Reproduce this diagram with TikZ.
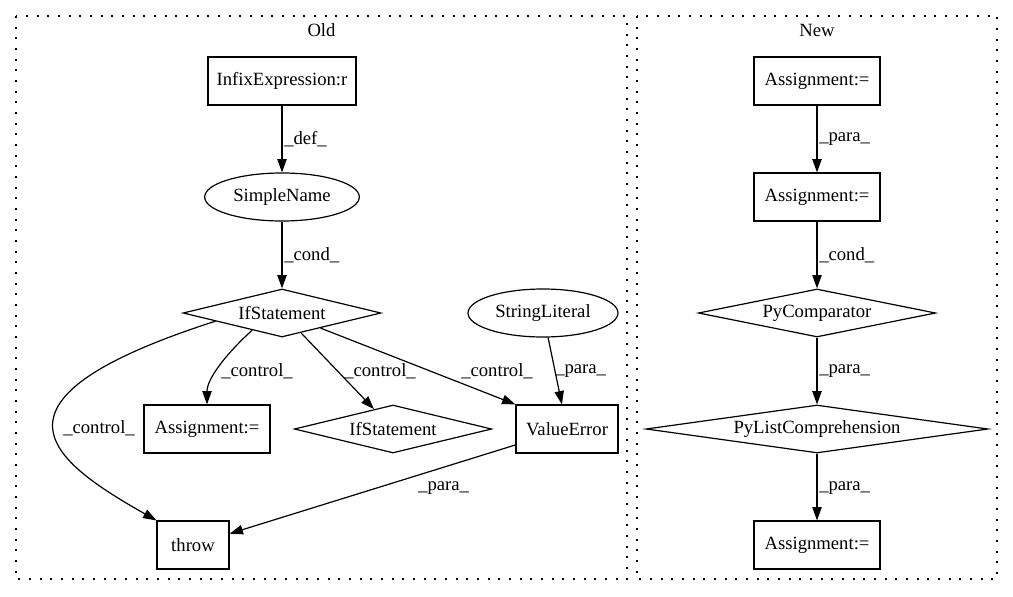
\documentclass[tikz,border=0pt]{standalone}
\usepackage{fontspec}
\setmainfont{Liberation Serif}
\usetikzlibrary{arrows.meta,shapes.geometric}
\begin{document}
\begin{tikzpicture}[x=0.75pt,y=-0.75pt,
  txt/.style={font=\fontsize{14}{16}\selectfont},
  box/.style={txt,draw,rectangle,minimum height=36pt,inner sep=0pt,line width=0.9pt},
  ell/.style={txt,draw,ellipse,minimum height=36pt,inner sep=0pt,line width=0.9pt},
  dia/.style={txt,draw,diamond,minimum height=36pt,inner sep=0pt,line width=0.9pt},
  lbl/.style={txt,anchor=west,inner sep=0pt},
  edge/.style={-{Triangle[length=10pt,width=7pt]},line width=0.9pt},
  cluster/.style={draw,dash pattern=on 1.5pt off 6.5pt,line width=1pt}]
\useasboundingbox (0,0) rectangle (1013,596);
% clusters
\draw[cluster] (16,16) rectangle (627,579);
\draw[cluster] (637,16) rectangle (997,579);
\node[txt] (toldt) at (321.5,30) {Old};
\node[txt] (tnew) at (817,30) {New};
% Old nodes
\node[box,minimum width=111pt] (infix) at (282,81) {InfixExpression:r};
\node[ell,minimum width=116pt] (sname) at (282,197) {SimpleName};
\node[dia,minimum width=148.5pt,aspect=4.1] (if1) at (282,313) {IfStatement};
\node[ell,minimum width=112.5pt] (strlit) at (543,313) {StringLiteral};
\node[box,minimum width=94.5pt] (assign) at (207,429) {Assignment:=};
\node[dia,minimum width=148pt,aspect=4.1] (if2) at (393,429) {IfStatement};
\node[box,minimum width=76.5pt] (valerr) at (567,429) {ValueError};
\node[box,minimum width=54pt] (throw) at (193,545) {throw};
% New nodes
\node[box,minimum width=94.5pt] (na1) at (817,81) {Assignment:=};
\node[box,minimum width=94.5pt] (na2) at (817,197) {Assignment:=};
\node[dia,minimum width=178pt,aspect=4.9] (pycomp) at (817,313) {PyComparator};
\node[dia,minimum width=256.5pt,aspect=7.1] (pylist) at (817,429) {PyListComprehension};
\node[box,minimum width=94.5pt] (na3) at (817,545) {Assignment:=};
% Old edges
\draw[edge] (infix) -- (sname);
\node[lbl] (ldef) at (284,139) {\_def\_};
\draw[edge] (sname) -- (if1);
\node[lbl] (lcond) at (284,255) {\_cond\_};
\draw[edge] (if1.210) .. controls (228,352) and (207,378) .. (assign.north);
\node[lbl] (lc1) at (221,371) {\_control\_};
\draw[edge] (if1) -- (if2);
\node[lbl] (lc2) at (344,371) {\_control\_};
\draw[edge] (if1) -- (valerr.north west);
\node[lbl] (lc3) at (461,371) {\_control\_};
\draw[edge] (strlit) -- (valerr);
\node[lbl] (lp1) at (555,371) {\_para\_};
\draw[edge] (if1.187) .. controls (-30,400) and (50,460) .. (throw.north west);
\node[lbl] (lc4) at (63,428) {\_control\_};
\draw[edge] (valerr) -- (throw);
\node[lbl] (lp2) at (418,488) {\_para\_};
% New edges
\draw[edge] (na1) -- (na2);
\node[lbl] (lnp1) at (819,139) {\_para\_};
\draw[edge] (na2) -- (pycomp);
\node[lbl] (lnc) at (819,255) {\_cond\_};
\draw[edge] (pycomp) -- (pylist);
\node[lbl] (lnp2) at (819,371) {\_para\_};
\draw[edge] (pylist) -- (na3);
\node[lbl] (lnp3) at (819,488) {\_para\_};
\end{tikzpicture}
\end{document}
